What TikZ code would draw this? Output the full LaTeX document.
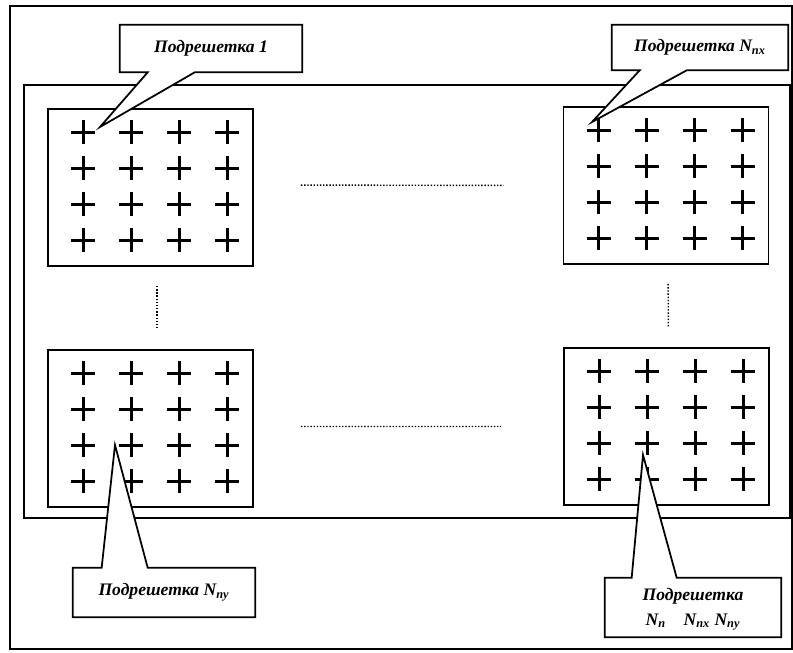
\documentclass[tikz,border=0pt]{standalone}
\usepackage{fontspec}
\setmainfont{Liberation Serif}
\usetikzlibrary{calc}

\tikzset{
  frame/.style={draw, line width=0.9pt},
  subgrid/.style={draw, line width=1.1pt, minimum width=4.1cm, minimum height=3.14cm, inner sep=0pt},
  cross/.style={line width=1.7pt},
  dots/.style={densely dotted, line width=0.8pt},
  label/.style={font=\bfseries\itshape\normalsize, align=center, inner sep=0pt},
  callout/.style={draw, fill=white, line width=1pt, line join=miter}
}

\begin{document}
\begin{tikzpicture}[x=0.02cm, y=-0.02cm]
\useasboundingbox (0,0) rectangle (793,652);

%Cadres
\draw[frame] (10,6) rectangle (792,649);
\draw[frame] (24,85) rectangle (790,518);

%Sous-réseaux
\node[subgrid] (tl) at (150.5,187.5) {};
\node[subgrid] (bl) at (150.5,428.5) {};
\node[subgrid] (tr) at (666,185.5) {};
\node[subgrid] (br) at (666.5,426.5) {};

%Croix
\foreach \g in {tl,bl,tr,br}
  \foreach \i in {0,...,3}
    \foreach \j in {0,...,3}
      \draw[cross] ($(\g.north west)+(36+48*\i-12,24+36*\j)$) -- ++(24,0)
                   ($(\g.north west)+(36+48*\i,24+36*\j-12)$) -- ++(0,24);

%Pointillés
\draw[dots, shorten <=0.94cm, shorten >=1.18cm] ([yshift=0.05cm]tl.east) -- (tr.west);
\draw[dots, shorten <=0.94cm, shorten >=1.24cm] ([yshift=0.04cm]bl.east) -- (br.west);
\draw[dots, shorten <=0.38cm, shorten >=0.4cm] ([xshift=0.13cm]tl.south) -- ([xshift=0.13cm]bl.north);
\draw[dots, shorten <=0.38cm, shorten >=0.4cm] ([xshift=0.04cm]tr.south) -- ([xshift=0.04cm]br.north);

%Bulles
\node[label, minimum width=3.64cm, minimum height=0.94cm] (c1) at (211,48.5) {};
\coordinate (t1) at (100,127);
\draw[callout] (c1.north west) -- (c1.north east) -- (c1.south east)
  -- ($(c1.south west)+(75,0)$) -- (t1) -- ($(c1.south west)+(28,0)$) -- (c1.south west) -- cycle;
\node[label] (c1t) at (c1) {Подрешетка 1};

\node[label, minimum width=3.52cm, minimum height=0.9cm] (c2) at (700,47.5) {};
\coordinate (t2) at (592,122);
\draw[callout] (c2.north west) -- (c2.north east) -- (c2.south east)
  -- ($(c2.south west)+(75,0)$) -- (t2) -- ($(c2.south west)+(28,0)$) -- (c2.south west) -- cycle;
\node[label] (c2t) at (c2) {Подрешетка N\textsubscript{пх}};

\node[label, minimum width=3.64cm, minimum height=0.98cm] (c3) at (164,592.5) {};
\coordinate (t3) at (115,445);
\draw[callout] (c3.south west) -- (c3.north west) -- ($(c3.north west)+(29,0)$)
  -- (t3) -- ($(c3.north west)+(75,0)$) -- (c3.north east) -- (c3.south east) -- cycle;
\node[label] (c3t) at (c3) {Подрешетка N\textsubscript{пу}};

\node[label, minimum width=3.52cm, minimum height=1.18cm] (c4) at (693,607.5) {};
\coordinate (t4) at (643,455);
\draw[callout] (c4.south west) -- (c4.north west) -- ($(c4.north west)+(27,0)$)
  -- (t4) -- ($(c4.north west)+(72,0)$) -- (c4.north east) -- (c4.south east) -- cycle;
\node[label] (c4t) at ([yshift=-0.04cm]c4) {Подрешетка\\[2pt] N\textsubscript{п}\quad N\textsubscript{пх} N\textsubscript{пу}};

\end{tikzpicture}
\end{document}
